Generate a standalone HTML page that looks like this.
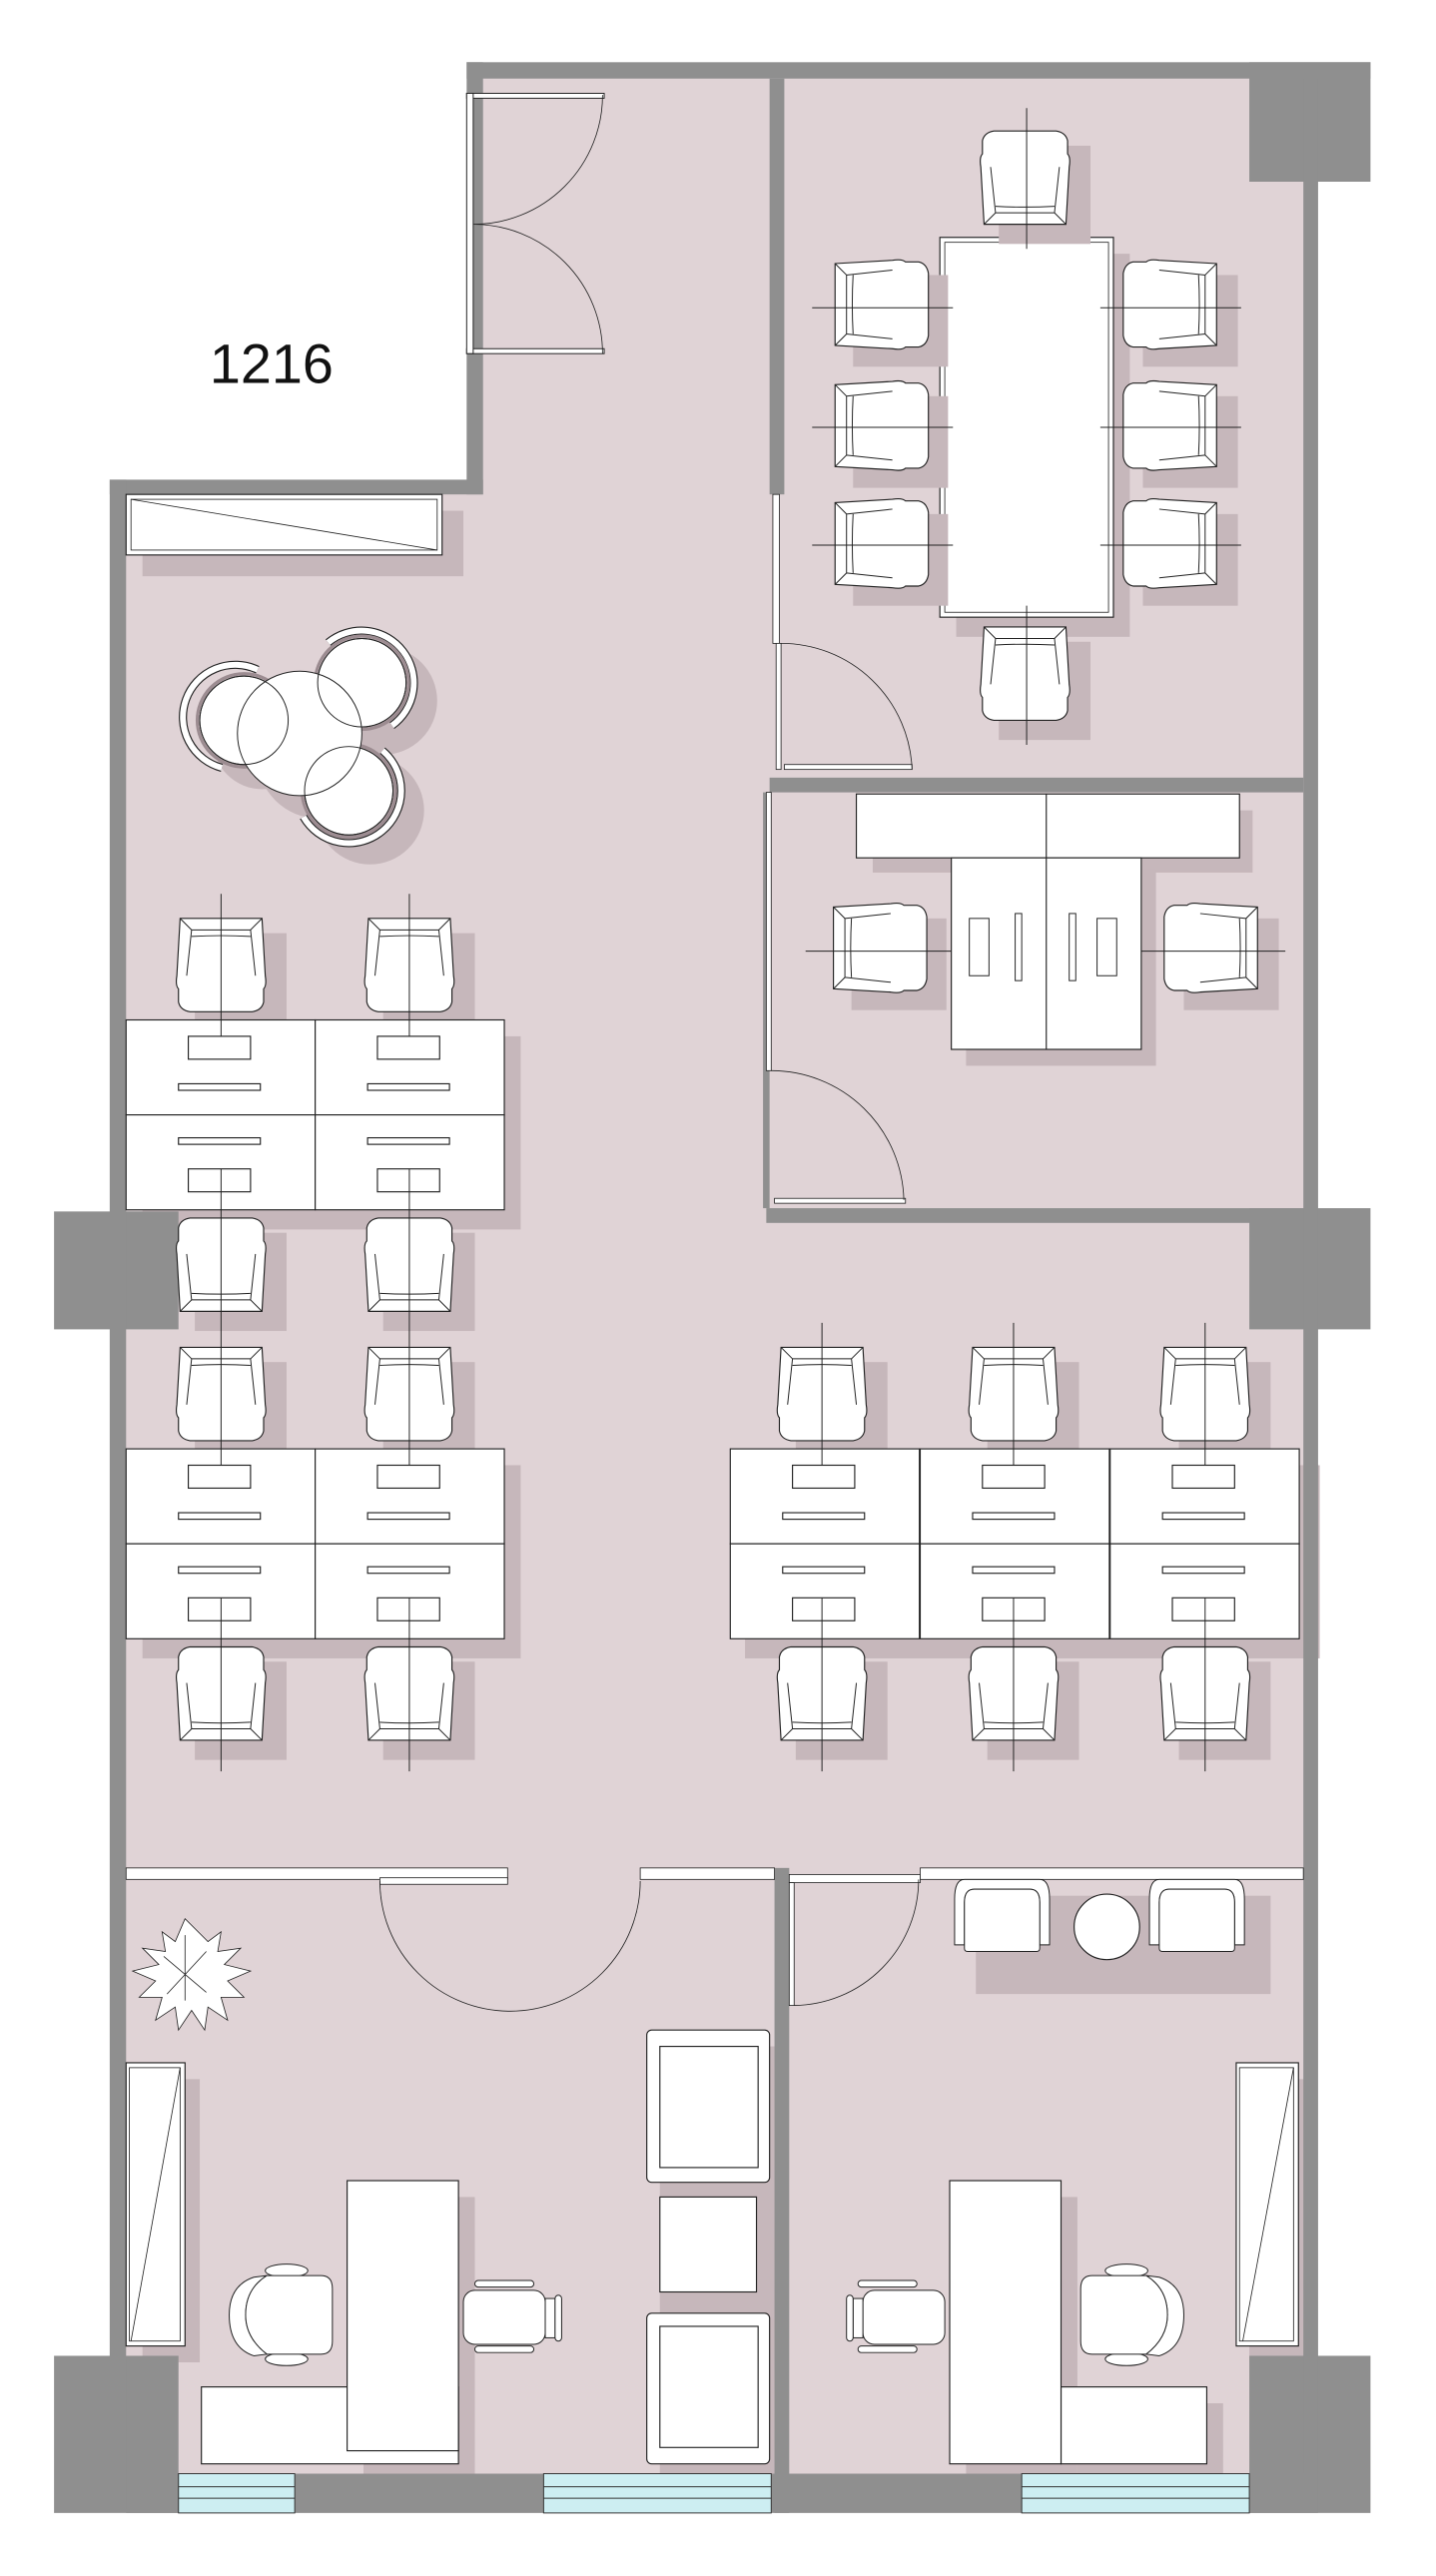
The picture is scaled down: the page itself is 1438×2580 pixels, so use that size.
<!DOCTYPE html>
<html><head><meta charset="utf-8"><style>
html,body{margin:0;padding:0;background:#fff}
svg{display:block}
</style></head><body>
<svg width="1438" height="2580" viewBox="0 0 877 1573.5" xmlns="http://www.w3.org/2000/svg" xmlns:xlink="http://www.w3.org/1999/xlink">
<defs>
<g id="cu">
  <path d="M3 1 L53 1 L55 36 Q56 42 54 44 L54 52 Q53 57 47 58 L9 58 Q3 57 2 52 L2 44 Q0 42 1 36 Z" fill="#fff" stroke="#222" stroke-width=".7"/>
  <path d="M3 1 L10 8 L46 8 L53 1 M10 8 L7 36 M46 8 L49 36 M10 12 Q28 11 46 12" fill="none" stroke="#222" stroke-width=".6"/>
</g>
<g id="cd"><use xlink:href="#cu" transform="rotate(180 28 29.5)"/></g>
<g id="cl"><use xlink:href="#cu" transform="translate(0 56) rotate(-90)"/></g>
<g id="cr"><use xlink:href="#cu" transform="translate(58 0) rotate(90)"/></g>
<g id="su"><rect x="12" y="10" width="56" height="60" fill="#c6b7bb"/><use xlink:href="#cu"/></g>
<g id="sd"><rect x="12" y="10" width="56" height="60" fill="#c6b7bb"/><use xlink:href="#cd"/></g>
<g id="sl"><rect x="12" y="10" width="58" height="56" fill="#c6b7bb"/><use xlink:href="#cl"/></g>
<g id="sr"><rect x="12" y="10" width="58" height="56" fill="#c6b7bb"/><use xlink:href="#cr"/></g>
<g id="cellT"><rect x="0" y="0" width="115.5" height="58" fill="#fff" stroke="#222" stroke-width=".7"/><rect x="38" y="10" width="38" height="14" fill="#fff" stroke="#222" stroke-width=".7"/><rect x="32" y="39" width="50" height="4" fill="#fff" stroke="#222" stroke-width=".7"/></g>
<g id="cellB"><rect x="0" y="0" width="115.5" height="58" fill="#fff" stroke="#222" stroke-width=".7"/><rect x="32" y="14" width="50" height="4" fill="#fff" stroke="#222" stroke-width=".7"/><rect x="38" y="33" width="38" height="14" fill="#fff" stroke="#222" stroke-width=".7"/></g>
<g id="arm">
  <path d="M6 0 Q0 0 0 12 L0 40 L6 40 L6 14 Q6 6 12 6 L46 6 Q52 6 52 14 L52 40 L58 40 L58 12 Q58 0 52 0 Z" fill="#fff" stroke="#222" stroke-width=".6"/>
  <path d="M6 14 Q6 6 12 6 L46 6 Q52 6 52 14 L52 42 Q52 44 50 44 L8 44 Q6 44 6 42 Z" fill="#fff" stroke="#222" stroke-width=".6"/>
</g>
</defs>

<path d="M290 43 L800 43 L800 1520 L72 1520 L72 297 L290 297 Z" fill="#e0d3d6"/>

<g fill="#c6b7bb">
<rect x="87" y="312" width="196" height="40"/>
<rect x="87" y="633" width="231" height="118"/>
<rect x="87" y="895" width="231" height="118"/>
<rect x="455" y="895" width="351" height="118"/>
<rect x="584" y="155" width="106" height="234"/>
<rect x="533" y="495" width="232" height="38"/>
<rect x="590" y="531" width="116" height="120"/>
<rect x="87" y="1270" width="35" height="173"/>
<rect x="222" y="1342" width="68" height="173"/>
<rect x="403" y="1250" width="78" height="265"/>
<rect x="590" y="1342" width="68" height="173"/>
<rect x="658" y="1468" width="89" height="47"/>
<rect x="763" y="1270" width="40" height="173"/>
<rect x="596" y="1158" width="180" height="60"/>
<circle cx="195" cy="462" r="38"/><circle cx="234" cy="428" r="33"/><circle cx="226" cy="495" r="33"/><circle cx="160" cy="452" r="30"/>
</g>

<g fill="#8f8f8f">
<rect x="285" y="38" width="552" height="10"/>
<rect x="285" y="38" width="10" height="264"/>
<rect x="67" y="293" width="228" height="9"/>
<rect x="33" y="740" width="76" height="72"/>
<rect x="33" y="1439" width="76" height="96"/>
<rect x="763" y="38" width="74" height="73"/>
<rect x="763" y="738" width="74" height="74"/>
<rect x="763" y="1439" width="74" height="96"/>
<rect x="67" y="293" width="10" height="1240"/>
<rect x="796" y="48" width="9" height="1470"/>
<rect x="77" y="1511" width="728" height="24"/>
<rect x="470" y="48" width="9" height="254"/>
<rect x="470" y="475" width="326" height="9"/>
<rect x="468" y="738" width="328" height="9"/>
<rect x="473" y="1141" width="9" height="394"/>
<rect x="466" y="484" width="4" height="254"/>
</g>
<g fill="#cdeef2" stroke="#333" stroke-width=".6">
<rect x="109" y="1511" width="71" height="24"/><rect x="332" y="1511" width="139" height="24"/><rect x="624" y="1511" width="139" height="24"/>
</g>
<g stroke="#333" stroke-width=".6"><line x1="109" y1="1519" x2="180" y2="1519"/><line x1="109" y1="1526" x2="180" y2="1526"/><line x1="332" y1="1519" x2="471" y2="1519"/><line x1="332" y1="1526" x2="471" y2="1526"/><line x1="624" y1="1519" x2="763" y2="1519"/><line x1="624" y1="1526" x2="763" y2="1526"/></g>

<g fill="#fff" stroke="#222" stroke-width=".6">
<rect x="285" y="57" width="84" height="3"/><rect x="285" y="213" width="84" height="3"/>
<rect x="285" y="57" width="4" height="159"/>
</g>
<path d="M289 137 A79 79 0 0 0 368 58 M289 137 A79 79 0 0 1 368 216" fill="none" stroke="#222" stroke-width=".5"/>

<g fill="#fff" stroke="#222" stroke-width=".5">
<rect x="472" y="302" width="4" height="91"/>
<rect x="474" y="393" width="3" height="77"/>
<rect x="479" y="467" width="78" height="3"/>
<rect x="468" y="484" width="3" height="170"/>
<rect x="473" y="732" width="80" height="3"/>
</g>
<path d="M477 393 A80 80 0 0 1 557 470 M471 654 A81 81 0 0 1 552 733" fill="none" stroke="#222" stroke-width=".5"/>

<g fill="#fff" stroke="#222" stroke-width=".5">
<rect x="77" y="1141" width="233" height="7"/>
<rect x="232" y="1147" width="78" height="4"/>
<rect x="391" y="1141" width="82" height="7"/>
<rect x="482" y="1145" width="80" height="5"/>
<rect x="562" y="1141" width="234" height="7"/>
<rect x="482" y="1150" width="3" height="75"/>
</g>
<path d="M232 1149 A77 77 0 0 0 391 1149 M485 1225 A77 77 0 0 0 561 1148" fill="none" stroke="#222" stroke-width=".5"/>

<text x="128" y="234" font-family="Liberation Sans, sans-serif" font-size="34" fill="#111">1216</text>

<rect x="77" y="302" width="193" height="37" fill="#fff" stroke="#222" stroke-width=".7"/>
<rect x="80" y="305" width="187" height="31" fill="none" stroke="#222" stroke-width=".5"/>
<line x1="80" y1="305" x2="267" y2="336" stroke="#222" stroke-width=".5"/>

<!-- round table cluster -->
<g fill="none">
<path d="M157.3 409.1 A32 32 0 1 0 135.5 469" stroke="#222" stroke-width="5"/>
<path d="M157.3 409.1 A32 32 0 1 0 135.5 469" stroke="#fff" stroke-width="3.6"/>
<path d="M200.4 392.5 A32 32 0 1 1 239.4 443.2" stroke="#222" stroke-width="5"/>
<path d="M200.4 392.5 A32 32 0 1 1 239.4 443.2" stroke="#fff" stroke-width="3.6"/>
<path d="M233.6 458.5 A32 32 0 1 1 185.3 499" stroke="#222" stroke-width="5"/>
<path d="M233.6 458.5 A32 32 0 1 1 185.3 499" stroke="#fff" stroke-width="3.6"/>
<circle cx="149" cy="440" r="28.5" stroke="#9c8c91" stroke-width="2"/>
<circle cx="221" cy="417" r="28.5" stroke="#9c8c91" stroke-width="2"/>
<circle cx="213" cy="483" r="28.5" stroke="#9c8c91" stroke-width="2"/>
</g>
<g stroke="#222" stroke-width=".6">
<circle cx="149" cy="440" r="27" fill="#fff"/><circle cx="221" cy="417" r="27" fill="#fff"/><circle cx="213" cy="483" r="27" fill="#fff"/>
<circle cx="183" cy="448" r="38" fill="#fff"/>
<circle cx="149" cy="440" r="27" fill="none"/><circle cx="221" cy="417" r="27" fill="none"/><circle cx="213" cy="483" r="27" fill="none"/>
</g>

<rect x="574" y="145" width="106" height="232" fill="#fff" stroke="#222" stroke-width=".7"/>
<rect x="577" y="148" width="100" height="226" fill="none" stroke="#222" stroke-width=".5"/>
<use xlink:href="#sd" x="598" y="79"/>
<use xlink:href="#su" x="598" y="382"/>
<use xlink:href="#sl" x="509" y="158"/><use xlink:href="#sl" x="509" y="232"/><use xlink:href="#sl" x="509" y="304"/>
<use xlink:href="#sr" x="686" y="158"/><use xlink:href="#sr" x="686" y="232"/><use xlink:href="#sr" x="686" y="304"/>
<g stroke="#222" stroke-width=".6">
<line x1="627" y1="66" x2="627" y2="152"/><line x1="627" y1="370" x2="627" y2="455"/>
<line x1="496" y1="188" x2="582" y2="188"/><line x1="496" y1="261" x2="582" y2="261"/><line x1="496" y1="333" x2="582" y2="333"/>
<line x1="672" y1="188" x2="758" y2="188"/><line x1="672" y1="261" x2="758" y2="261"/><line x1="672" y1="333" x2="758" y2="333"/>
</g>

<rect x="523" y="485" width="234" height="39" fill="#fff" stroke="#222" stroke-width=".7"/>
<rect x="581" y="524" width="116" height="117" fill="#fff" stroke="#222" stroke-width=".7"/>
<line x1="639" y1="485" x2="639" y2="641" stroke="#222" stroke-width=".7"/>
<g fill="#fff" stroke="#222" stroke-width=".6">
<rect x="592" y="561" width="12" height="35"/><rect x="620" y="558" width="4" height="41"/><rect x="653" y="558" width="4" height="41"/><rect x="670" y="561" width="12" height="35"/>
</g>
<use xlink:href="#sl" x="508" y="551"/><use xlink:href="#sr" x="711" y="551"/>
<g stroke="#222" stroke-width=".6"><line x1="492" y1="581" x2="581" y2="581"/><line x1="697" y1="581" x2="785" y2="581"/></g>

<use xlink:href="#su" x="107" y="560"/><use xlink:href="#su" x="222" y="560"/>
<use xlink:href="#sd" x="107" y="743"/><use xlink:href="#sd" x="222" y="743"/>
<use xlink:href="#su" x="107" y="822"/><use xlink:href="#su" x="222" y="822"/>
<use xlink:href="#sd" x="107" y="1005"/><use xlink:href="#sd" x="222" y="1005"/>
<use xlink:href="#su" x="474" y="822"/><use xlink:href="#su" x="591" y="822"/><use xlink:href="#su" x="708" y="822"/>
<use xlink:href="#sd" x="474" y="1005"/><use xlink:href="#sd" x="591" y="1005"/><use xlink:href="#sd" x="708" y="1005"/>

<use xlink:href="#cellT" x="77" y="623"/><use xlink:href="#cellT" x="192.5" y="623"/>
<use xlink:href="#cellB" x="77" y="681"/><use xlink:href="#cellB" x="192.5" y="681"/>
<use xlink:href="#cellT" x="77" y="885"/><use xlink:href="#cellT" x="192.5" y="885"/>
<use xlink:href="#cellB" x="77" y="943"/><use xlink:href="#cellB" x="192.5" y="943"/>
<use xlink:href="#cellT" x="446" y="885"/><use xlink:href="#cellT" x="562" y="885"/><use xlink:href="#cellT" x="678" y="885"/>
<use xlink:href="#cellB" x="446" y="943"/><use xlink:href="#cellB" x="562" y="943"/><use xlink:href="#cellB" x="678" y="943"/>

<g stroke="#222" stroke-width=".6">
<line x1="135" y1="546" x2="135" y2="633"/><line x1="250" y1="546" x2="250" y2="633"/>
<line x1="135" y1="714" x2="135" y2="895"/><line x1="250" y1="714" x2="250" y2="895"/>
<line x1="135" y1="976" x2="135" y2="1082"/><line x1="250" y1="976" x2="250" y2="1082"/>
<line x1="502" y1="808" x2="502" y2="895"/><line x1="619" y1="808" x2="619" y2="895"/><line x1="736" y1="808" x2="736" y2="895"/>
<line x1="502" y1="976" x2="502" y2="1082"/><line x1="619" y1="976" x2="619" y2="1082"/><line x1="736" y1="976" x2="736" y2="1082"/>
</g>

<g stroke="#222" stroke-width=".5" fill="#fff">
<path d="M113 1172 l-6 14 l-8 -6 l2 12 l-14 -2 l10 10 l-16 4 l14 6 l-10 10 l14 0 l-4 14 l12 -8 l2 14 l8 -12 l8 12 l2 -14 l12 8 l-4 -14 l14 0 l-10 -10 l14 -6 l-16 -4 l10 -10 l-14 2 l2 -12 l-8 6 z"/>
<path d="M100 1195 l26 22 M126 1192 l-24 26 M113 1182 l0 40" fill="none"/>
</g>
<rect x="77" y="1260" width="36" height="173" fill="#fff" stroke="#222" stroke-width=".7"/>
<rect x="79" y="1263" width="31" height="167" fill="none" stroke="#222" stroke-width=".5"/>
<line x1="110" y1="1263" x2="80" y2="1430" stroke="#222" stroke-width=".5"/>
<g fill="#fff" stroke="#222" stroke-width=".7">
<rect x="123" y="1458" width="157" height="47"/>
<rect x="212" y="1332" width="68" height="165"/>
</g>
<g fill="#fff" stroke="#222" stroke-width=".6">
<ellipse cx="175" cy="1387" rx="13" ry="4"/><ellipse cx="175" cy="1441" rx="13" ry="4"/>
<path d="M155 1391 Q140 1396 140 1414 Q140 1434 155 1439 L163 1438 Q150 1428 150 1414 Q150 1398 163 1390 Z"/>
<path d="M163 1390 L196 1390 Q203 1390 203 1398 L203 1430 Q203 1438 196 1438 L163 1438 Q150 1428 150 1414 Q150 1398 163 1390 Z"/>
</g>
<g fill="#fff" stroke="#222" stroke-width=".6">
<rect x="290" y="1393" width="36" height="4" rx="2"/><rect x="290" y="1433" width="36" height="4" rx="2"/>
<rect x="283" y="1399" width="50" height="33" rx="7"/><rect x="333" y="1404" width="6" height="24"/><rect x="339" y="1402" width="4" height="28" rx="2"/>
</g>
<g fill="#fff" stroke="#222" stroke-width=".7">
<rect x="395" y="1240" width="75" height="93" rx="3"/><rect x="403" y="1250" width="60" height="74"/>
<rect x="403" y="1342" width="59" height="58"/>
<rect x="395" y="1413" width="75" height="92" rx="3"/><rect x="403" y="1421" width="60" height="74"/>
</g>

<g fill="#fff" stroke="#222" stroke-width=".7">
<use xlink:href="#arm" x="583" y="1148"/>
<circle cx="676" cy="1177" r="20"/>
<use xlink:href="#arm" x="702" y="1148"/>
<rect x="755" y="1260" width="38" height="173"/>
<rect x="648" y="1458" width="89" height="47"/>
<rect x="580" y="1332" width="68" height="173"/>
</g>
<rect x="757" y="1263" width="33" height="167" fill="none" stroke="#222" stroke-width=".5"/>
<line x1="790" y1="1263" x2="759" y2="1430" stroke="#222" stroke-width=".5"/>
<g fill="#fff" stroke="#222" stroke-width=".6">
<rect x="524" y="1393" width="36" height="4" rx="2"/><rect x="524" y="1433" width="36" height="4" rx="2"/>
<rect x="527" y="1399" width="50" height="33" rx="7"/><rect x="521" y="1404" width="6" height="24"/><rect x="517" y="1402" width="4" height="28" rx="2"/>
<ellipse cx="688" cy="1387" rx="13" ry="4"/><ellipse cx="688" cy="1441" rx="13" ry="4"/>
<path d="M708 1391 Q723 1396 723 1414 Q723 1434 708 1439 L700 1438 Q713 1428 713 1414 Q713 1398 700 1390 Z"/>
<path d="M700 1390 L667 1390 Q660 1390 660 1398 L660 1430 Q660 1438 667 1438 L700 1438 Q713 1428 713 1414 Q713 1398 700 1390 Z"/>
</g>
</svg>
</body></html>
